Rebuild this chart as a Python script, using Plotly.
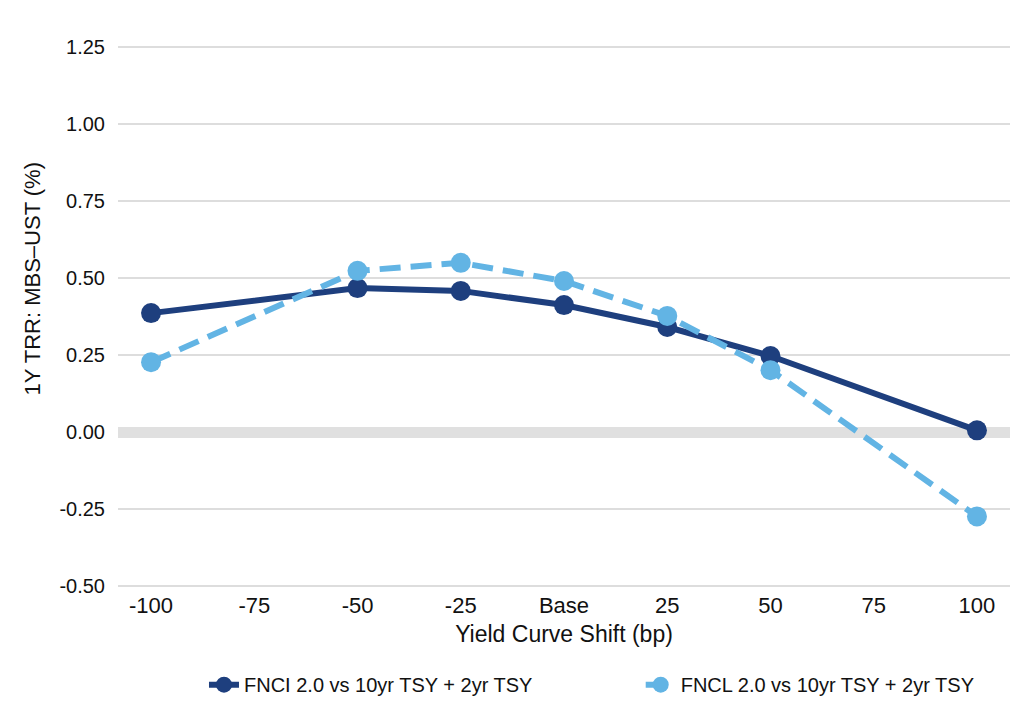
import plotly.graph_objects as go

x_shift = [-100, -50, -25, 0, 25, 50, 100]
fnci = [0.386, 0.467, 0.458, 0.412, 0.341, 0.247, 0.006]
fncl = [0.227, 0.523, 0.549, 0.490, 0.377, 0.201, -0.273]
tick_vals = [-100, -75, -50, -25, 0, 25, 50, 75, 100]
tick_text = ["-100", "-75", "-50", "-25", "Base", "25", "50", "75", "100"]
y_ticks = [-0.5, -0.25, 0, 0.25, 0.5, 0.75, 1.0, 1.25]
y_tick_text = ["-0.50", "-0.25", "0.00", "0.25", "0.50", "0.75", "1.00", "1.25"]

DARK = "#1E3F7E"
LIGHT = "#62B4E4"
FONT = "Liberation Sans, Arial, sans-serif"

fig = go.Figure()
fig.add_trace(go.Scatter(
    x=x_shift, y=fnci, mode="lines+markers",
    name="FNCI 2.0 vs 10yr TSY + 2yr TSY",
    line=dict(color=DARK, width=6),
    marker=dict(color=DARK, size=20),
    legend="legend",
))
fig.add_trace(go.Scatter(
    x=x_shift, y=fncl, mode="lines+markers",
    name="FNCL 2.0 vs 10yr TSY + 2yr TSY",
    line=dict(color=LIGHT, width=6, dash="21px,10px"),
    marker=dict(color=LIGHT, size=20),
    legend="legend2",
))

legend_common = dict(orientation="h", xanchor="left", y=-0.140, yanchor="top",
                     font=dict(family=FONT, size=20, color="#111111"),
                     bgcolor="rgba(0,0,0,0)")

fig.update_layout(
    width=1008, height=701,
    paper_bgcolor="white", plot_bgcolor="white",
    margin=dict(l=110, r=6, t=37, b=120),
    font=dict(family=FONT, size=20, color="#111111"),
    showlegend=True,
    legend=dict(x=0.0964, **legend_common),
    legend2=dict(x=0.586, **legend_common),
    xaxis=dict(
        range=[-108, 108], tickvals=tick_vals, ticktext=tick_text,
        showgrid=False, zeroline=False, showline=False, automargin=False,
        ticks="", ticklabelstandoff=2,
        tickfont=dict(family=FONT, size=22),
        title=dict(text="Yield Curve Shift (bp)", standoff=8,
                   font=dict(family=FONT, size=23)),
    ),
    yaxis=dict(
        range=[-0.505, 1.255], tickvals=y_ticks, ticktext=y_tick_text,
        showgrid=True, gridcolor="#DDDDDD", gridwidth=2,
        zeroline=True, zerolinecolor="#E0E0E0", zerolinewidth=11,
        showline=False, ticks="", ticklabelstandoff=12, automargin=False,
        tickfont=dict(family=FONT, size=20),
    ),
    annotations=[dict(
        text="1Y TRR: MBS\u2013UST (%)", textangle=-90,
        xref="paper", yref="paper", x=-0.0964, y=0.570,
        xanchor="center", yanchor="middle", showarrow=False,
        font=dict(family=FONT, size=22, color="#111111"),
    )],
)

fig.write_html("out.html")
